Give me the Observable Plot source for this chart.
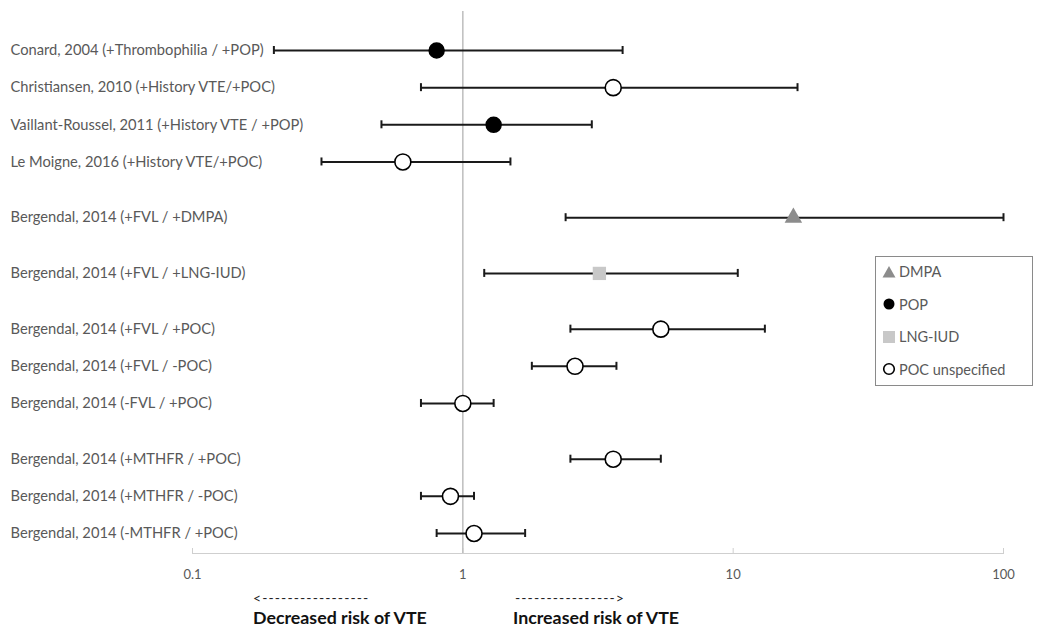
<!DOCTYPE html>
<html>
<head>
<meta charset="utf-8">
<script src="https://cdn.jsdelivr.net/npm/d3@7"></script>
<script src="https://cdn.jsdelivr.net/npm/@observablehq/plot@0.6"></script>
<style>
  html, body { margin: 0; padding: 0; background: #fff; }
  #wrap { position: relative; width: 1050px; height: 635px; font-family: Lato, "Open Sans", sans-serif; }
  #legend { position: absolute; left: 875px; top: 256px; width: 158px; height: 130px; border: 1px solid #8a8a8a; background: #fff; box-sizing: border-box; }
  .li { position: absolute; left: 6px; display: flex; align-items: center; font-size: 14.5px; color: #595959; }
  .li svg { margin-right: 3px; }
  .arrow { position: absolute; font-size: 14px; color: #222; letter-spacing: 1.1px; line-height: 16px; }
  .note { position: absolute; font-size: 17.8px; font-weight: bold; color: #111; line-height: 20px; }
</style>
</head>
<body>
<div id="wrap"></div>
<script>
// ---- data ----
const labels = [
  "Conard, 2004 (+Thrombophilia / +POP)",
  "Christiansen, 2010 (+History VTE/+POC)",
  "Vaillant-Roussel, 2011 (+History VTE / +POP)",
  "Le Moigne, 2016 (+History VTE/+POC)",
  "Bergendal, 2014 (+FVL / +DMPA)",
  "Bergendal, 2014 (+FVL / +LNG-IUD)",
  "Bergendal, 2014 (+FVL / +POC)",
  "Bergendal, 2014 (+FVL / -POC)",
  "Bergendal, 2014 (-FVL / +POC)",
  "Bergendal, 2014 (+MTHFR / +POC)",
  "Bergendal, 2014 (+MTHFR / -POC)",
  "Bergendal, 2014 (-MTHFR / +POC)"
];
const groups = [1, 1, 1, 1, 2, 3, 4, 4, 4, 5, 5, 5];
const estimate = [0.8, 3.6, 1.3, 0.6, 16.7, 3.2, 5.4, 2.6, 1.0, 3.6, 0.9, 1.1];
const lower    = [0.2, 0.7, 0.5, 0.3, 2.4, 1.2, 2.5, 1.8, 0.7, 2.5, 0.7, 0.8];
const upper    = [3.9, 17.3, 3.0, 1.5, 100, 10.4, 13.1, 3.7, 1.3, 5.4, 1.1, 1.7];
const types    = ["POP", "POC unspecified", "POP", "POC unspecified", "DMPA", "LNG-IUD",
                  "POC unspecified", "POC unspecified", "POC unspecified", "POC unspecified",
                  "POC unspecified", "POC unspecified"];
const xTicks = [0.1, 1, 10, 100];
const legendItems = ["DMPA", "POP", "LNG-IUD", "POC unspecified"];

const rows = labels.map((label, i) => ({label, group: groups[i], or: estimate[i], lo: lower[i], hi: upper[i], type: types[i]}));

// y domain with spacer entries: one spacer between rows, two between groups
const yDomain = [];
rows.forEach((r, i) => {
  if (i > 0) {
    yDomain.push(" ".repeat(yDomain.length + 1));
    if (r.group !== rows[i - 1].group) yDomain.push(" ".repeat(yDomain.length + 1));
  }
  yDomain.push(r.label);
});

const font = "Lato, 'Open Sans', sans-serif";
const chart = Plot.plot({
  width: 1050,
  height: 635,
  marginLeft: 192,
  marginRight: 47,
  marginTop: 0,
  marginBottom: 82,
  style: {fontFamily: font, background: "#fff"},
  x: {type: "log", domain: [0.1, 100]},
  y: {type: "point", domain: yDomain, range: [50, 533], padding: 0, round: false, axis: null},
  marks: [
    Plot.frame({anchor: "bottom", stroke: "#cfcfcf"}),
    Plot.ruleX(xTicks, {stroke: "#cfcfcf", insetTop: 548}),
    Plot.ruleX([1], {stroke: "#bdbdbd", strokeWidth: 1.5, insetTop: 11}),
    Plot.axisX(xTicks, {tickSize: 0, tickPadding: 16, tickFormat: d => String(d), fill: "#595959", fontSize: 13, fontFamily: font}),
    Plot.text(rows, {y: "label", text: "label", frameAnchor: "left", textAnchor: "start", dx: -182, fill: "#595959", fontSize: 14.7}),
    Plot.ruleY(rows, {y: "label", x1: "lo", x2: "hi", stroke: "#1a1a1a", strokeWidth: 2}),
    Plot.ruleX(rows, {x: "lo", y1: "label", y2: "label", insetTop: -4, insetBottom: -4, stroke: "#1a1a1a", strokeWidth: 2}),
    Plot.ruleX(rows, {x: "hi", y1: "label", y2: "label", insetTop: -4, insetBottom: -4, stroke: "#1a1a1a", strokeWidth: 2}),
    Plot.dot(rows.filter(d => d.type === "POP"), {x: "or", y: "label", r: 7.5, fill: "#000", stroke: "#000"}),
    Plot.dot(rows.filter(d => d.type === "POC unspecified"), {x: "or", y: "label", r: 8, fill: "#fff", stroke: "#000", strokeWidth: 1.6}),
    Plot.dot(rows.filter(d => d.type === "DMPA"), {x: "or", y: "label", symbol: "triangle", r: 6.5, fill: "#8c8c8c"}),
    Plot.dot(rows.filter(d => d.type === "LNG-IUD"), {x: "or", y: "label", symbol: "square", r: 7.5, fill: "#c8c8c8"})
  ]
});

const wrap = document.getElementById("wrap");
wrap.appendChild(chart);

// legend
const legend = document.createElement("div");
legend.id = "legend";
const sym = {
  "DMPA": '<svg width="14" height="14"><path d="M7,1 L13.5,12.5 L0.5,12.5Z" fill="#8c8c8c"/></svg>',
  "POP": '<svg width="14" height="14"><circle cx="7" cy="7" r="5.5" fill="#000"/></svg>',
  "LNG-IUD": '<svg width="14" height="14"><rect x="1" y="1" width="12" height="12" fill="#c8c8c8"/></svg>',
  "POC unspecified": '<svg width="14" height="14"><circle cx="7" cy="7" r="5.3" fill="#fff" stroke="#000" stroke-width="1.6"/></svg>'
};
legendItems.forEach((name, i) => {
  const el = document.createElement("div");
  el.className = "li";
  el.style.top = (6 + i * 32.5) + "px";
  el.innerHTML = sym[name] + "<span>" + name + "</span>";
  legend.appendChild(el);
});
wrap.appendChild(legend);

// direction annotations
const notes = [
  {cls: "arrow", text: "<-----------------", left: 253, top: 590},
  {cls: "arrow", text: "---------------->", left: 515, top: 590},
  {cls: "note", text: "Decreased risk of VTE", left: 253, top: 607},
  {cls: "note", text: "Increased risk of VTE", left: 513, top: 607}
];
notes.forEach(n => {
  const el = document.createElement("div");
  el.className = n.cls;
  el.textContent = n.text;
  el.style.left = n.left + "px";
  el.style.top = n.top + "px";
  wrap.appendChild(el);
});
</script>
</body>
</html>
